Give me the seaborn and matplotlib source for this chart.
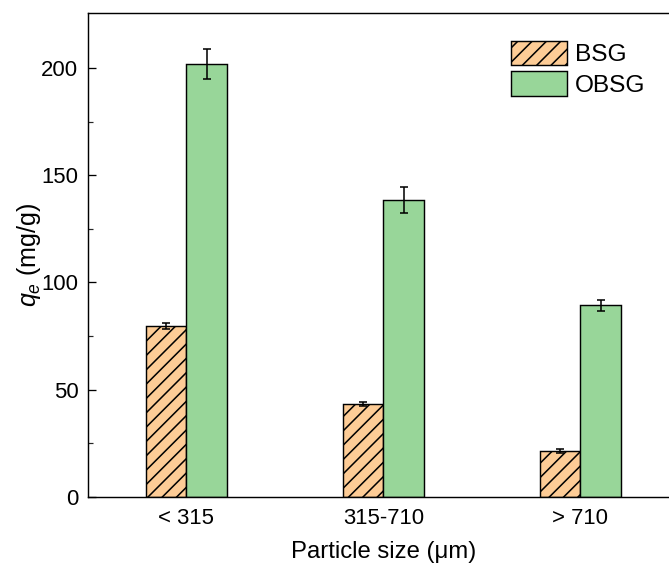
import matplotlib
matplotlib.use("Agg")
import matplotlib.pyplot as plt
import seaborn as sns
import pandas as pd
import numpy as np

# ---- data ----
categories = ["< 315", "315-710", "> 710"]
series = ["BSG", "OBSG"]
bsg_values = [79.7, 43.4, 21.3]
obsg_values = [201.8, 138.6, 89.3]
bsg_errors = [1.3, 0.9, 1.0]
obsg_errors = [7.0, 6.1, 2.7]
colors = ["#FDCC96", "#98D699"]

sns.set_theme(style="ticks")
plt.rcParams['font.family'] = ['Liberation Sans', 'DejaVu Sans']
plt.rcParams['mathtext.fontset'] = 'custom'
plt.rcParams['mathtext.rm'] = 'Liberation Sans'
plt.rcParams['mathtext.it'] = 'Liberation Sans:italic'
plt.rcParams['hatch.linewidth'] = 1.3
plt.rcParams['hatch.color'] = 'black'
plt.rcParams['text.color'] = 'black'
plt.rcParams['axes.labelcolor'] = 'black'

df = pd.DataFrame({
    "size": categories * 2,
    "sample": [series[0]] * 3 + [series[1]] * 3,
    "qe": bsg_values + obsg_values,
})

DPI = 86
fig = plt.figure(figsize=(669 / DPI, 568 / DPI), dpi=DPI)
ax = fig.add_axes([88 / 669, 71 / 568, 591 / 669, 484 / 568])

sns.barplot(data=df, x="size", y="qe", hue="sample", order=categories,
            hue_order=series, palette=colors, width=0.41, errorbar=None,
            edgecolor="black", linewidth=1.2, saturation=1, ax=ax, legend=False)

bar_containers = list(ax.containers)
err_all = [bsg_errors, obsg_errors]
for ci, cont in enumerate(bar_containers):
    xs = [p.get_x() + p.get_width() / 2 for p in cont.patches]
    hs = [p.get_height() for p in cont.patches]
    if ci == 0:
        for p in cont.patches:
            p.set_hatch('//')
    ax.errorbar(xs, hs, yerr=err_all[ci], fmt='none', ecolor='black',
                elinewidth=1.3, capsize=3.6, capthick=1.3, zorder=5)

ax.set_xlim(-0.5, 2.5)
ax.set_ylim(0, 225.6)
ax.set_yticks([0, 50, 100, 150, 200])
ax.set_yticks([25, 75, 125, 175], minor=True)
ax.tick_params(axis='y', which='major', direction='in', length=7, width=1.1,
               labelsize=18.5, pad=8, colors='black')
ax.tick_params(axis='y', which='minor', direction='in', length=4, width=1.0)
ax.tick_params(axis='x', which='major', direction='in', length=0,
               labelsize=18.5, pad=9, colors='black')

for s in ax.spines.values():
    s.set_visible(True)
    s.set_color('black')
    s.set_linewidth(1.2)

ax.set_xlabel("Particle size (\u03bcm)", fontsize=20, labelpad=10)
ax.set_ylabel(r"$q_e$ (mg/g)", fontsize=21, labelpad=-1)

ax.legend(handles=bar_containers, labels=series, loc='upper left',
          bbox_to_anchor=(511 / 669, 1 - 41 / 568), bbox_transform=fig.transFigure,
          frameon=False, fontsize=20.5, handlelength=2.3, handleheight=1.15,
          handletextpad=0.3, labelspacing=0.2, borderaxespad=0, borderpad=0)

fig.savefig("out.png", dpi=DPI)
